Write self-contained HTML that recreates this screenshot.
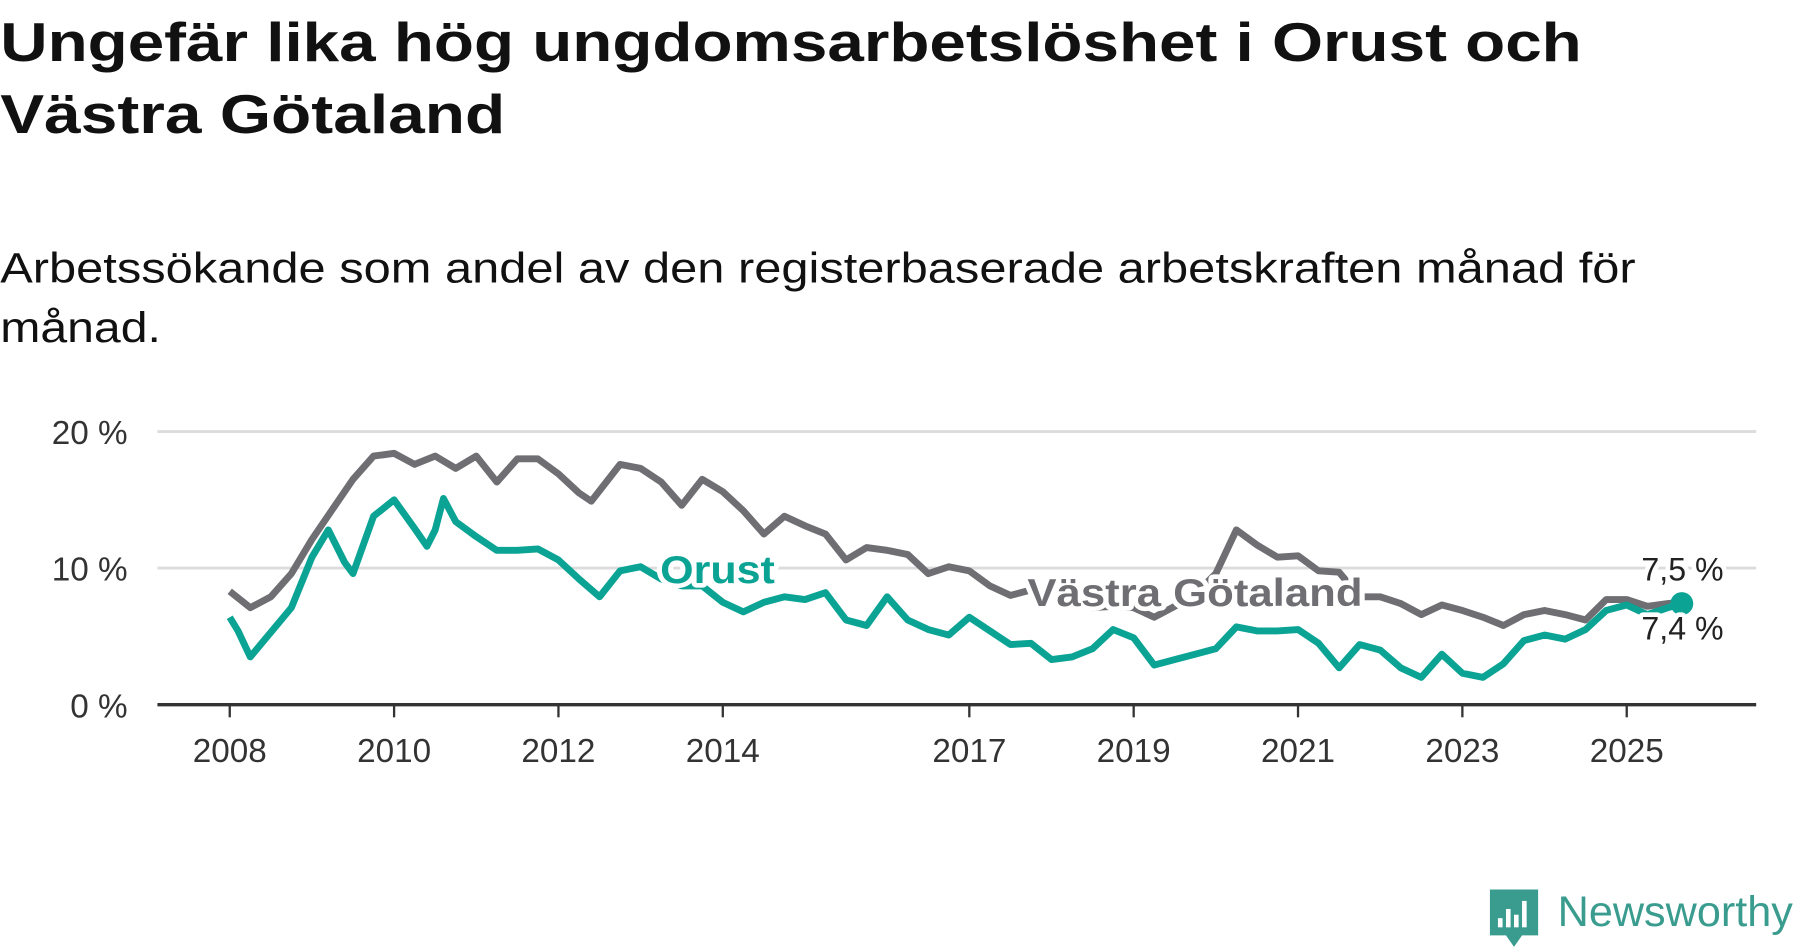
<!DOCTYPE html>
<html><head><meta charset="utf-8"><style>
html,body{margin:0;padding:0;background:#fff;}
svg{display:block;font-family:"Liberation Sans","DejaVu Sans",sans-serif;}
</style></head><body>
<svg id="chart" width="1800" height="948" viewBox="0 0 1568 826" xmlns="http://www.w3.org/2000/svg">
<text x="0" y="53" font-size="48" font-weight="bold" fill="#111" textLength="1378" lengthAdjust="spacingAndGlyphs">Ungefär lika hög ungdomsarbetslöshet i Orust och</text>
<text x="0" y="116" font-size="48" font-weight="bold" fill="#111" textLength="440" lengthAdjust="spacingAndGlyphs">Västra Götaland</text>
<text x="0" y="246" font-size="37" fill="#111" textLength="1425" lengthAdjust="spacingAndGlyphs">Arbetssökande som andel av den registerbaserade arbetskraften månad för</text>
<text x="0" y="298" font-size="37" fill="#111" textLength="140" lengthAdjust="spacingAndGlyphs">månad.</text>
<g id="grid"></g>
<g id="xaxis"></g>
<g id="series"></g>
<g id="labels"></g>
<g>
<path d="M1298 775 h42 v40 h-14 l-7 10 l-7 -10 h-14 z" fill="#3a9c8e"/>
<rect x="1305" y="800" width="4" height="8" fill="#fff"/><rect x="1312" y="792" width="4" height="16" fill="#fff"/><rect x="1319" y="797" width="4" height="11" fill="#fff"/><rect x="1326" y="785" width="4" height="23" fill="#fff"/>
<text x="1357" y="807" font-size="37" fill="#3a9c8e" textLength="205" lengthAdjust="spacingAndGlyphs">Newsworthy</text>
</g>
</svg>
<script>
const years = [2008,2008.25,2008.5,2008.75,2009,2009.25,2009.5,2009.75,2010,2010.25,2010.5,2010.75,2011,2011.25,2011.5,2011.75,2012,2012.25,2012.4,2012.75,2013,2013.25,2013.5,2013.75,2014,2014.25,2014.5,2014.75,2015,2015.25,2015.5,2015.75,2016,2016.25,2016.5,2016.75,2017,2017.25,2017.5,2017.75,2018,2018.25,2018.5,2018.75,2019,2019.25,2019.5,2019.75,2020,2020.25,2020.5,2020.75,2021,2021.25,2021.5,2021.75,2022,2022.25,2022.5,2022.75,2023,2023.25,2023.5,2023.75,2024,2024.25,2024.5,2024.75,2025,2025.25,2025.5,2025.67];
const vgValues = [8.3,7.1,7.9,9.6,12.1,14.3,16.5,18.2,18.4,17.6,18.2,17.3,18.2,16.3,18.0,18.0,16.9,15.5,14.9,17.6,17.3,16.3,14.6,16.5,15.6,14.2,12.5,13.8,13.1,12.5,10.6,11.5,11.3,11.0,9.6,10.1,9.8,8.7,8.0,8.4,7.9,7.5,7.1,7.2,7.1,6.4,7.2,8.1,9.6,12.8,11.7,10.8,10.9,9.8,9.7,7.9,7.9,7.4,6.6,7.3,6.9,6.4,5.8,6.6,6.9,6.6,6.2,7.7,7.7,7.2,7.4,7.5];
const orustYears = [2008,2008.1,2008.25,2008.5,2008.75,2009,2009.2,2009.4,2009.5,2009.75,2010,2010.25,2010.4,2010.5,2010.6,2010.75,2011,2011.25,2011.5,2011.75,2012,2012.25,2012.5,2012.75,2013,2013.25,2013.5,2013.75,2014,2014.25,2014.5,2014.75,2015,2015.25,2015.5,2015.75,2016,2016.25,2016.5,2016.75,2017,2017.25,2017.5,2017.75,2018,2018.25,2018.5,2018.75,2019,2019.25,2019.5,2019.75,2020,2020.25,2020.5,2020.75,2021,2021.25,2021.5,2021.75,2022,2022.25,2022.5,2022.75,2023,2023.25,2023.5,2023.75,2024,2024.25,2024.5,2024.75,2025,2025.25,2025.5,2025.67];
const orustValues = [6.4,5.4,3.5,5.3,7.1,10.8,12.8,10.4,9.6,13.8,15.0,12.9,11.6,12.8,15.1,13.4,12.3,11.3,11.3,11.4,10.6,9.2,7.9,9.8,10.1,9.2,8.7,8.7,7.5,6.8,7.5,7.9,7.7,8.2,6.2,5.8,7.9,6.2,5.5,5.1,6.4,5.4,4.4,4.5,3.3,3.5,4.1,5.5,4.9,2.9,3.3,3.7,4.1,5.7,5.4,5.4,5.5,4.5,2.7,4.4,4.0,2.7,2.0,3.7,2.3,2.0,3.0,4.7,5.1,4.8,5.5,6.9,7.3,6.6,7.1,7.4];
const yTicks = [0,10,20];
const yTickLabels = ["0 %","10 %","20 %"];
const xTicks = [2008,2010,2012,2014,2017,2019,2021,2023,2025];

const NS="http://www.w3.org/2000/svg";
const X = v => 200 + (v-2008)*71.6;
const Y = v => 614 - v*11.9;
function mk(tag, attrs, parent, txt){const e=document.createElementNS(NS,tag);for(const k in attrs)e.setAttribute(k,attrs[k]);if(txt!==undefined)e.textContent=txt;parent.appendChild(e);return e;}
const grid=document.getElementById('grid'), xa=document.getElementById('xaxis'), ser=document.getElementById('series'), lab=document.getElementById('labels');
yTicks.forEach((t,i)=>{
  if(t>0){const l=mk('line',{x1:137,x2:1530,y1:Y(t),y2:Y(t),stroke:'#dcdcdc','stroke-width':2.5},grid);
  
  }
  const tx=mk('text',{x:111,y:Y(t)+11,'text-anchor':'end','font-size':29,fill:'#333'},grid,yTickLabels[i]);
  
  
});
const ax=mk('line',{x1:137,x2:1530,y1:Y(0),y2:Y(0),stroke:'#333','stroke-width':3},xa);


xTicks.forEach(t=>{
  mk('line',{x1:X(t),x2:X(t),y1:Y(0),y2:Y(0)+11,stroke:'#333','stroke-width':2},xa);
  const tx=mk('text',{x:X(t),y:Y(0)+50,'text-anchor':'middle','font-size':29,fill:'#333'},xa,String(t));
  
  
});
function path(xs,vs){return xs.map((x,i)=>(i?'L':'M')+X(x).toFixed(1)+' '+Y(vs[i]).toFixed(1)).join(' ');}
const pv=mk('path',{d:path(years,vgValues),fill:'none',stroke:'#6e6e73','stroke-width':6,'stroke-linejoin':'round'},ser);


const po=mk('path',{d:path(orustYears,orustValues),fill:'none',stroke:'#0aa394','stroke-width':6,'stroke-linejoin':'round'},ser);


const last=orustYears.length-1;
const dot=mk('circle',{cx:X(orustYears[last]),cy:Y(orustValues[last]),r:10,fill:'#0aa394'},ser);


const halo={stroke:'#fff','stroke-width':8,'paint-order':'stroke','stroke-linejoin':'round'};
const l1=mk('text',Object.assign({x:575,y:508,'font-size':34,'font-weight':'bold',fill:'#0aa394',textLength:100,lengthAdjust:'spacingAndGlyphs'},halo),lab,'Orust');


const l2=mk('text',Object.assign({x:895,y:528,'font-size':34,'font-weight':'bold',fill:'#6e6e73',textLength:292,lengthAdjust:'spacingAndGlyphs'},halo),lab,'Västra Götaland');


const e1=mk('text',Object.assign({x:1430,y:506,'font-size':28,fill:'#222'},halo),lab,(vgValues[vgValues.length-1]).toFixed(1).replace('.',',')+' %');


const e2=mk('text',Object.assign({x:1430,y:557,'font-size':28,fill:'#222'},halo),lab,(orustValues[last]).toFixed(1).replace('.',',')+' %');


</script>
</body></html>
